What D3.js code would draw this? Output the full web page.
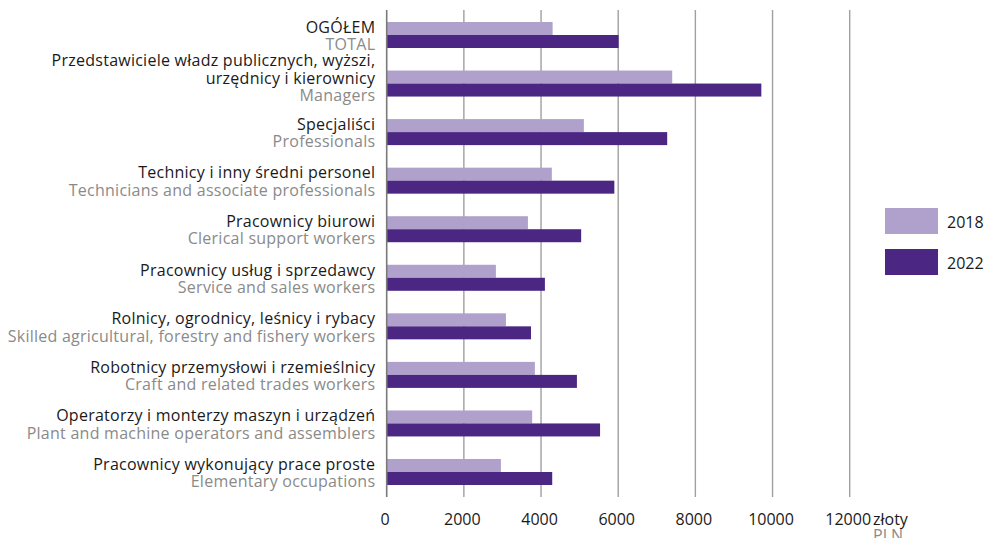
<!DOCTYPE html>
<html>
<head>
<meta charset="utf-8">
<script src="https://cdn.jsdelivr.net/npm/d3@7"></script>
<style>
  html, body { margin: 0; padding: 0; background: #fff; }
  svg { display: block; }
  text { font-family: "Open Sans", sans-serif; }
</style>
</head>
<body>
<svg id="chart" width="985" height="538"></svg>
<script>
// ---- data ----
const categoryKeys = ["total", "managers", "professionals", "technicians", "clerical", "service", "agricultural", "craft", "operators", "elementary"];
const labelsPL = [
  ["OGÓŁEM"],
  ["Przedstawiciele władz publicznych, wyższi,", "urzędnicy i kierownicy"],
  ["Specjaliści"],
  ["Technicy i inny średni personel"],
  ["Pracownicy biurowi"],
  ["Pracownicy usług i sprzedawcy"],
  ["Rolnicy, ogrodnicy, leśnicy i rybacy"],
  ["Robotnicy przemysłowi i rzemieślnicy"],
  ["Operatorzy i monterzy maszyn i urządzeń"],
  ["Pracownicy wykonujący prace proste"]
];
const labelsEN = [
  "TOTAL",
  "Managers",
  "Professionals",
  "Technicians and associate professionals",
  "Clerical support workers",
  "Service and sales workers",
  "Skilled agricultural, forestry and fishery workers",
  "Craft and related trades workers",
  "Plant and machine operators and assemblers",
  "Elementary occupations"
];
const seriesNames = ["2018", "2022"];
const values2018 = [4300, 7400, 5110, 4280, 3660, 2830, 3090, 3840, 3770, 2960];
const values2022 = [6010, 9710, 7270, 5900, 5040, 4100, 3740, 4930, 5530, 4290];
const xTicks = [0, 2000, 4000, 6000, 8000, 10000, 12000];
const unitPL = "złoty";
const unitEN = "PLN";

const colors = { "2018": "#b0a0cc", "2022": "#4b2683" };
const FS = 16;

// ---- build ----
const svg = d3.select("#chart");
const x = d3.scaleLinear().domain([0, 12000]).range([386.7, 849.7]);
const y = d3.scaleBand().domain(categoryKeys).range([10, 497]).paddingInner(0.4645).paddingOuter(0.247);
const ySub = d3.scaleBand().domain(seriesNames).range([0, y.bandwidth()]);

const rows = categoryKeys.map((k, i) => ({
  key: k, pl: labelsPL[i], en: labelsEN[i],
  vals: [{ s: "2018", v: values2018[i] }, { s: "2022", v: values2022[i] }]
}));

// gridlines
svg.append("g").selectAll("line").data(xTicks.slice(1)).join("line")
  .attr("x1", d => x(d)).attr("x2", d => x(d))
  .attr("y1", 10).attr("y2", 497)
  .attr("stroke", "#a0a0a0").attr("stroke-width", 1.4);

// bars
const g = svg.append("g").selectAll("g").data(rows).join("g")
  .attr("transform", d => `translate(0,${y(d.key)})`);
g.selectAll("rect").data(d => d.vals).join("rect")
  .attr("x", x(0)).attr("y", d => ySub(d.s))
  .attr("width", d => x(d.v) - x(0)).attr("height", ySub.bandwidth())
  .attr("fill", d => colors[d.s]);

// y axis line
svg.append("line").attr("x1", x(0)).attr("x2", x(0)).attr("y1", 10).attr("y2", 497)
  .attr("stroke", "#7a7a7a").attr("stroke-width", 1.6);

// x axis tick labels via d3 axis
const xAxis = d3.axisBottom(x).tickValues(xTicks).tickSize(0).tickPadding(0).tickFormat(d3.format("d"));
const ax = svg.append("g").attr("transform", "translate(-2,514)").call(xAxis);
ax.select(".domain").remove();
ax.selectAll("text").attr("font-size", FS).attr("fill", "#1a1a1a")
  .attr("font-family", "'Open Sans', sans-serif").attr("dy", "0.71em");

// unit
svg.append("text").attr("x", 873).attr("y", 525).attr("font-size", FS).attr("fill", "#1a1a1a").text(unitPL);
svg.append("text").attr("x", 873).attr("y", 541).attr("font-size", FS).attr("fill", "#8a8a8a").text(unitEN);

// category labels
const lh = 17.5;
rows.forEach(r => {
  const lines = r.pl.map(t => ({ t, c: "#1a1a1a" })).concat([{ t: r.en, c: "#8a8a8a" }]);
  const n = lines.length;
  const c = y(r.key) + y.bandwidth() / 2;
  lines.forEach((l, i) => {
    svg.append("text")
      .attr("x", 375.3)
      .attr("y", c + (i - (n - 1) / 2) * lh + 6.5 - (n - 2) * 6.5)
      .attr("text-anchor", "end").attr("font-size", FS)
      .attr("letter-spacing", 0.25).attr("fill", l.c)
      .text(l.t);
  });
});

// legend
const leg = svg.append("g").selectAll("g").data(seriesNames).join("g")
  .attr("transform", (d, i) => `translate(885,${208 + i * 41})`);
leg.append("rect").attr("width", 53).attr("height", 26).attr("fill", d => colors[d]);
leg.append("text").attr("x", 62).attr("y", 20).attr("font-size", FS).attr("fill", "#1a1a1a").text(d => d);
</script>
</body>
</html>
